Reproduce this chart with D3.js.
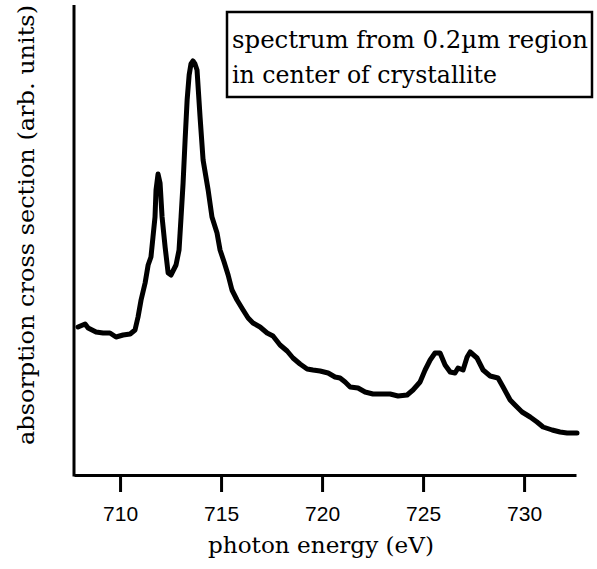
<!DOCTYPE html>
<html>
<head>
<meta charset="utf-8">
<script src="https://cdn.jsdelivr.net/npm/d3@7"></script>
<style>
  body { margin: 0; background: #fff; }
  svg { display: block; }
</style>
</head>
<body>
<div id="chart"></div>
<script>
// photon energy (eV)
const energy = [
  707.92, 708.27, 708.42, 708.81, 709.16, 709.50, 709.80, 710.15, 710.50, 710.74,
  710.89, 711.04, 711.24, 711.39, 711.53, 711.63, 711.73, 711.78, 711.88, 711.98,
  712.08, 712.23, 712.38, 712.52, 712.77, 712.92, 713.02, 713.12, 713.22, 713.32,
  713.42, 713.51, 713.61, 713.71, 713.81, 713.96, 714.11, 714.36, 714.55, 714.80,
  714.95, 715.15, 715.35, 715.54, 715.79, 716.09, 716.34, 716.58, 716.93, 717.28,
  717.57, 717.92, 718.27, 718.56, 718.91, 719.26, 719.55, 719.90, 720.30, 720.64,
  720.89, 721.14, 721.39, 721.78, 722.13, 722.52, 722.97, 723.37, 723.76, 724.21,
  724.50, 724.85, 725.10, 725.35, 725.59, 725.84, 726.09, 726.34, 726.58, 726.73,
  726.98, 727.18, 727.33, 727.67, 727.97, 728.32, 728.71, 728.96, 729.31, 729.55,
  729.90, 730.30, 730.64, 730.94, 731.39, 731.78, 732.13, 732.62
];
// absorption (arb. units)
const absorption = [
  37.0, 37.75, 36.75, 35.75, 35.5, 35.5, 34.5, 35.0, 35.25, 36.25,
  39.5, 43.75, 48.0, 52.5, 54.5, 59.5, 64.5, 71.25, 75.25, 73.0,
  64.5, 57.0, 50.5, 50.0, 52.5, 56.25, 64.5, 73.0, 83.75, 93.75,
  100.0, 102.75, 103.5, 102.75, 101.25, 89.5, 78.75, 71.25, 64.5, 60.5,
  56.25, 53.25, 50.0, 46.25, 43.75, 41.25, 39.25, 38.0, 37.0, 35.5,
  34.75, 32.5, 31.0, 29.25, 27.75, 26.5, 26.25, 26.0, 25.5, 24.5,
  24.25, 23.25, 22.0, 21.75, 20.75, 20.25, 20.25, 20.25, 19.75, 20.0,
  21.25, 23.25, 26.25, 28.75, 30.5, 30.5, 27.5, 25.75, 25.5, 26.75,
  26.25, 29.5, 30.75, 29.25, 26.25, 24.75, 24.25, 22.0, 18.75, 17.5,
  15.75, 14.5, 13.25, 12.0, 11.25, 10.75, 10.5, 10.5
];
const xTicks = [710, 715, 720, 725, 730];
const noteLines = ["spectrum from 0.2\u00b5m region", "in center of crystallite"];
const noteWidths = [356, 265];

const width = 597, height = 569;
const serif = "'DejaVu Serif', 'Liberation Serif', serif";
const sans = "'Liberation Sans', Arial, Helvetica, sans-serif";

const svg = d3.select("#chart").append("svg")
  .attr("width", width)
  .attr("height", height);

const x = d3.scaleLinear().domain([707.72, 732.57]).range([74, 576]);
const y = d3.scaleLinear().domain([0, 117.5]).range([475, 5]);

// x axis
const xAxis = svg.append("g")
  .attr("transform", `translate(0,${y(0)})`)
  .call(d3.axisBottom(x).tickValues(xTicks).tickSize(17).tickSizeOuter(0).tickPadding(14).tickFormat(d3.format("d")));
xAxis.select(".domain").attr("stroke", "#000").attr("stroke-width", 3);
xAxis.selectAll(".tick line").attr("stroke", "#000").attr("stroke-width", 3);
xAxis.selectAll(".tick text")
  .style("font-family", sans)
  .style("font-size", "21px")
  .attr("fill", "#000");

// y axis (no ticks)
svg.append("line")
  .attr("x1", x.range()[0]).attr("x2", x.range()[0])
  .attr("y1", y.range()[1]).attr("y2", y.range()[0] + 1.5)
  .attr("stroke", "#000")
  .attr("stroke-width", 3);

// spectrum
const line = d3.line()
  .x((d, i) => x(energy[i]))
  .y((d) => y(d));

svg.append("path")
  .datum(absorption)
  .attr("d", line)
  .attr("fill", "none")
  .attr("stroke", "#000")
  .attr("stroke-width", 5)
  .attr("stroke-linejoin", "round")
  .attr("stroke-linecap", "round");

// axis titles
svg.append("text")
  .attr("x", 208)
  .attr("y", 553)
  .attr("textLength", 226)
  .attr("lengthAdjust", "spacingAndGlyphs")
  .style("font-family", serif)
  .style("font-size", "23px")
  .text("photon energy (eV)");

svg.append("text")
  .attr("transform", "translate(34,445) rotate(-90)")
  .attr("textLength", 440)
  .attr("lengthAdjust", "spacingAndGlyphs")
  .style("font-family", serif)
  .style("font-size", "23px")
  .text("absorption cross section (arb. units)");

// note box
const note = svg.append("g");
note.append("rect")
  .attr("x", 227).attr("y", 12)
  .attr("width", 365).attr("height", 85)
  .attr("fill", "#fff")
  .attr("stroke", "#000")
  .attr("stroke-width", 2.5);
note.selectAll("text")
  .data(noteLines)
  .enter()
  .append("text")
  .attr("x", 232)
  .attr("y", (d, i) => 48 + i * 35)
  .attr("textLength", (d, i) => noteWidths[i])
  .attr("lengthAdjust", "spacingAndGlyphs")
  .style("font-family", serif)
  .style("font-size", "24px")
  .text((d) => d);
</script>
</body>
</html>
